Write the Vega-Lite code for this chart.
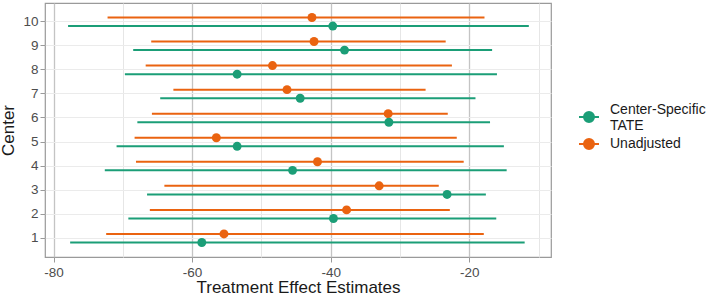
{
  "$schema": "https://vega.github.io/schema/vega-lite/v6.json",
  "autosize": "none",
  "width": 506,
  "height": 254,
  "padding": {"left": 45, "top": 3, "right": 158, "bottom": 40},
  "background": "white",
  "config": {
    "font": "Liberation Sans",
    "view": {"stroke": "#9a9a9a", "strokeWidth": 1.2},
    "axis": {"domain": false, "labelFont": "Liberation Sans", "titleFont": "Liberation Sans"}
  },
  "data": {
    "values": [
      {"center": 10, "series": "Unadjusted", "est": -42.7, "lower": -72.2, "upper": -17.8},
      {"center": 10, "series": "Center-Specific TATE", "est": -39.7, "lower": -77.9, "upper": -11.4},
      {"center": 9, "series": "Unadjusted", "est": -42.4, "lower": -65.9, "upper": -23.4},
      {"center": 9, "series": "Center-Specific TATE", "est": -38.0, "lower": -68.5, "upper": -16.7},
      {"center": 8, "series": "Unadjusted", "est": -48.4, "lower": -66.7, "upper": -22.5},
      {"center": 8, "series": "Center-Specific TATE", "est": -53.5, "lower": -69.7, "upper": -16.0},
      {"center": 7, "series": "Unadjusted", "est": -46.3, "lower": -62.7, "upper": -26.3},
      {"center": 7, "series": "Center-Specific TATE", "est": -44.4, "lower": -64.6, "upper": -19.1},
      {"center": 6, "series": "Unadjusted", "est": -31.7, "lower": -65.8, "upper": -23.1},
      {"center": 6, "series": "Center-Specific TATE", "est": -31.6, "lower": -67.9, "upper": -17.0},
      {"center": 5, "series": "Unadjusted", "est": -56.5, "lower": -68.3, "upper": -21.8},
      {"center": 5, "series": "Center-Specific TATE", "est": -53.5, "lower": -70.9, "upper": -15.0},
      {"center": 4, "series": "Unadjusted", "est": -41.9, "lower": -68.1, "upper": -20.8},
      {"center": 4, "series": "Center-Specific TATE", "est": -45.5, "lower": -72.6, "upper": -14.6},
      {"center": 3, "series": "Unadjusted", "est": -33.0, "lower": -64.0, "upper": -24.4},
      {"center": 3, "series": "Center-Specific TATE", "est": -23.2, "lower": -66.5, "upper": -17.6},
      {"center": 2, "series": "Unadjusted", "est": -37.7, "lower": -66.1, "upper": -22.8},
      {"center": 2, "series": "Center-Specific TATE", "est": -39.6, "lower": -69.2, "upper": -16.1},
      {"center": 1, "series": "Unadjusted", "est": -55.4, "lower": -72.4, "upper": -17.9},
      {"center": 1, "series": "Center-Specific TATE", "est": -58.6, "lower": -77.6, "upper": -12.0}
    ]
  },
  "encoding": {
    "y": {
      "field": "center", "type": "ordinal", "sort": "descending",
      "scale": {"paddingInner": 0, "paddingOuter": 0.28},
      "axis": {
        "title": "Center", "titleFontSize": 17, "titleFontWeight": "normal", "titleColor": "#1a1a1a",
        "titlePadding": 5,
        "labelFontSize": 13.5, "labelColor": "#4d4d4d", "labelPadding": 2,
        "tickColor": "#9a9a9a", "tickSize": 5,
        "grid": true, "gridColor": "#ebebeb", "gridWidth": 1, "bandPosition": 0.5
      }
    },
    "yOffset": {
      "field": "series", "type": "nominal",
      "scale": {"domain": ["Unadjusted", "Center-Specific TATE"], "paddingInner": 0, "paddingOuter": 0.4}
    },
    "color": {
      "field": "series", "type": "nominal",
      "scale": {"domain": ["Center-Specific TATE", "Unadjusted"], "range": ["#1B9E77", "#EA6310"]},
      "legend": {
        "title": null, "orient": "none", "legendX": 533, "legendY": 103,
        "symbolType": "M-1,0H1M-0.5,0A0.5,0.5,0,1,1,0.5,0A0.5,0.5,0,1,1,-0.5,0Z",
        "symbolSize": 400, "symbolStrokeWidth": 2,
        "labelFontSize": 14, "labelColor": "#1a1a1a", "labelFont": "Liberation Sans",
        "labelOffset": 10,
        "labelExpr": "datum.label == 'Center-Specific TATE' ? ['Center-Specific', 'TATE'] : datum.label",
        "rowPadding": -7,
        "encode": {
          "symbols": {"update": {"stroke": {"scale": "color", "field": "value"}, "fill": {"scale": "color", "field": "value"}, "strokeWidth": {"value": 2}}},
          "labels": {"update": {"dy": {"signal": "datum.value === 'Center-Specific TATE' ? -7 : 0"}}}
        }
      }
    }
  },
  "layer": [
    {
      "mark": {"type": "rule", "strokeWidth": 2},
      "encoding": {
        "x": {
          "field": "lower", "type": "quantitative",
          "scale": {"domain": [-81.23, -8.2], "nice": false, "zero": false},
          "axis": {
            "title": "Treatment Effect Estimates", "titleFontSize": 17, "titleFontWeight": "normal", "titleColor": "#1a1a1a",
            "titlePadding": 1,
            "values": [-80, -70, -60, -50, -40, -30, -20, -10],
            "labelExpr": "datum.value % 20 === 0 ? '' + datum.value : ''",
            "labelFontSize": 13.5, "labelColor": "#4d4d4d", "labelPadding": 3,
            "tickColor": "#9a9a9a", "tickSize": 5,
            "tickOpacity": {"condition": {"test": "datum.value % 20 === 0", "value": 1}, "value": 0},
            "grid": true,
            "gridColor": {"condition": {"test": "datum.value % 20 === 0", "value": "#c4c4c4"}, "value": "#e6e6e6"},
            "gridWidth": {"condition": {"test": "datum.value % 20 === 0", "value": 1.3}, "value": 1}
          }
        },
        "x2": {"field": "upper"}
      }
    },
    {
      "mark": {"type": "point", "filled": true, "opacity": 1, "size": 80},
      "encoding": {
        "x": {"field": "est", "type": "quantitative"}
      }
    }
  ]
}
